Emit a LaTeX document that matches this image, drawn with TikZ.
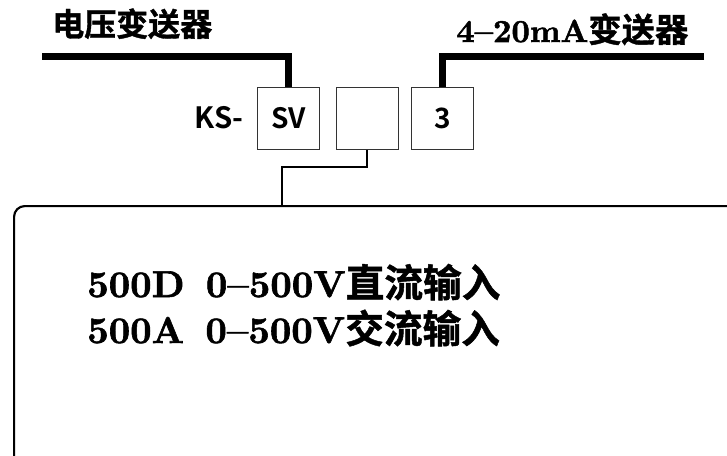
\documentclass[tikz,border=0pt]{standalone}
\usepackage{fontspec}
\newfontfamily\cjk{Noto Sans CJK SC}[UprightFont=* Bold]
\newfontfamily\cjkh{Noto Sans CJK SC}[UprightFont=* Bold, FakeBold=1.2]
\newfontfamily\hs{lmroman10-bold}[Extension=.otf, FakeBold=1.6, Ligatures=TeX]
\tikzset{
  heavy/.style={line width=5.25pt},
  wire/.style={line width=1.6pt},
  slot/.style={draw=black!80, line width=0.6pt, minimum width=46.5pt, minimum height=46.5pt, anchor=north west, inner sep=0pt, font=\cjk\fontsize{21}{22}\selectfont},
  label/.style={inner sep=0pt, anchor=base west},
}
\begin{document}
\begin{tikzpicture}[x=0.75pt,y=-0.75pt]
\useasboundingbox (0,0) rectangle (727,456);
% titles
\node[label] (t1) at (52,36) {\cjkh\fontsize{24}{26}\selectfont 电压变送器};
\node[label] (t2) at (456,42) {\hs\fontsize{24}{26}\selectfont 4–20mA{\cjkh\fontsize{25}{26}\selectfont 变送器}};
% boxes
\node[slot] (sv) at (257,87) {SV};
\node[slot] (b2) at (336,87) {};
\node[slot] (b3) at (411,87) {3};
\node[inner sep=0pt, anchor=east, font=\cjk\fontsize{22}{23}\selectfont] (ks) at (244,118) {KS-};
% thick leads
\coordinate (lstart) at (42,57);
\coordinate (rend) at (704,57);
\draw[heavy] (lstart) -| (sv.north);
\draw[heavy] (rend) -| (b3.north);
% panel
\node[draw, line width=1.6pt, rounded corners=8pt, anchor=north west, minimum width=600pt, minimum height=250pt, inner sep=0pt] (panel) at (13,205) {};
\coordinate (bend) at (282,167);
\draw[wire] (b2.south) |- (bend) -- (bend |- panel.north);
% texts
\node[label] (l1) at (87,297) {\hs\fontsize{28}{30}\selectfont 500D\hspace{16pt}0–500V{\cjkh\fontsize{29}{30}\selectfont 直流输入}};
\node[label] (l2) at (87,343) {\hs\fontsize{28}{30}\selectfont 500A\hspace{16pt}0–500V{\cjkh\fontsize{29}{30}\selectfont 交流输入}};
\end{tikzpicture}
\end{document}
